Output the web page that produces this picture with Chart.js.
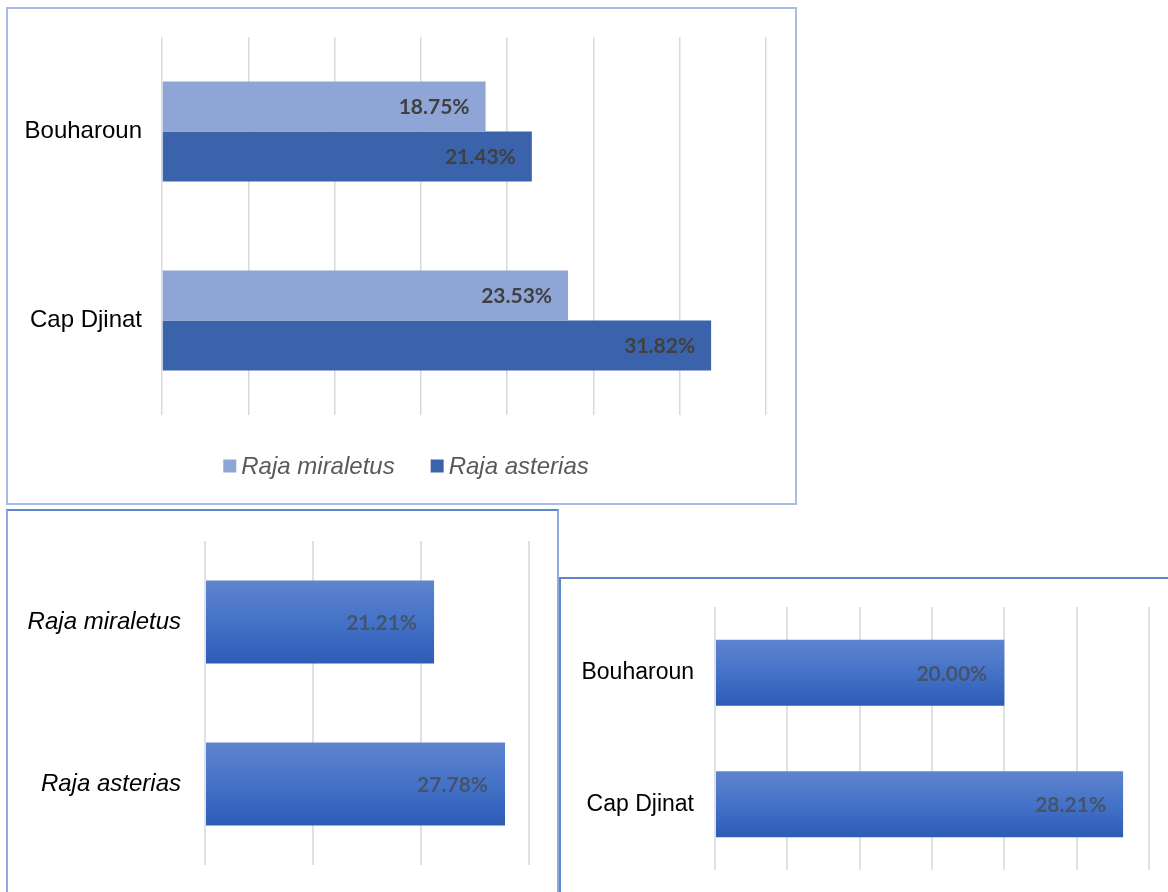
<!DOCTYPE html>
<html>
<head>
<meta charset="utf-8">
<script src="https://cdn.jsdelivr.net/npm/chart.js@4.4.1/dist/chart.umd.min.js"></script>
<style>
  html, body { margin: 0; padding: 0; background: #ffffff; width: 1168px; height: 892px; overflow: hidden; }
  .box { position: absolute; box-sizing: border-box; }
  canvas { position: absolute; display: block; }
</style>
</head>
<body>
<div class="box" style="left:6px; top:7px; width:791px; height:498px; border:2px solid #A4BCE6;"></div>
<div class="box" style="left:6px; top:509px; width:553px; height:400px; border:2px solid #8FAADF; border-top-color:#5F86CF;"></div>
<div class="box" style="left:559px; top:577px; width:620px; height:330px; border-top:2px solid #5F86CF; border-left:2px solid #5F86CF;"></div>

<canvas id="c1" width="789" height="495" style="left:7px; top:8px;"></canvas>
<canvas id="c2" width="551" height="381" style="left:8px; top:511px;"></canvas>
<canvas id="c3" width="607" height="313" style="left:561px; top:579px;"></canvas>

<script>
// ---------- data ----------
const chart1Categories = ['Bouharoun', 'Cap Djinat'];
const rajaMiraletusValues = [18.75, 23.53];
const rajaAsteriasValues = [21.43, 31.82];
const chart1SeriesNames = ['Raja miraletus', 'Raja asterias'];

const chart2Categories = ['Raja miraletus', 'Raja asterias'];
const chart2Values = [21.21, 27.78];

const chart3Categories = ['Bouharoun', 'Cap Djinat'];
const chart3Values = [20.00, 28.21];

// ---------- helpers ----------
const endLabels = {
  id: 'endLabels',
  afterDatasetsDraw(chart, args, opts) {
    const ctx = chart.ctx;
    ctx.save();
    ctx.font = opts.font;
    ctx.fillStyle = opts.color;
    ctx.textAlign = 'right';
    ctx.textBaseline = 'middle';
    chart.data.datasets.forEach((ds, di) => {
      const meta = chart.getDatasetMeta(di);
      meta.data.forEach((bar, i) => {
        ctx.fillText(ds.data[i].toFixed(2) + '%', bar.x - opts.offset, bar.y + 1);
      });
    });
    ctx.restore();
  }
};

// legend drawn from the datasets (label + colour), centred below the plot
const boxLegend = {
  id: 'boxLegend',
  afterDraw(chart, args, opts) {
    const ctx = chart.ctx;
    ctx.save();
    ctx.font = opts.font;
    ctx.textBaseline = 'middle';
    ctx.textAlign = 'left';
    const items = chart.data.datasets.map(ds => ({ text: ds.label, color: ds.backgroundColor, w: ctx.measureText(ds.label).width }));
    let total = 0;
    items.forEach((it, i) => { total += opts.box + opts.gap + it.w + (i ? opts.itemGap : 0); });
    let x = opts.centerX - total / 2;
    const y = chart.chartArea.bottom + opts.offsetY;
    items.forEach((it) => {
      ctx.fillStyle = it.color;
      ctx.fillRect(x, y - opts.box / 2, opts.box, opts.box);
      x += opts.box + opts.gap;
      ctx.fillStyle = opts.color;
      ctx.fillText(it.text, x, y + 1);
      x += it.w + opts.itemGap;
    });
    ctx.restore();
  }
};

function gradientFor(catPct) {
  return function (c) {
    const chart = c.chart;
    const area = chart.chartArea;
    if (!area || !chart.scales.y) return '#4472C4';
    const center = chart.scales.y.getPixelForValue(c.dataIndex);
    const cat = (area.bottom - area.top) / chart.data.labels.length;
    const half = cat * catPct / 2;
    const g = chart.ctx.createLinearGradient(0, center - half, 0, center + half);
    g.addColorStop(0, '#6084CE');
    g.addColorStop(0.5, '#4472C8');
    g.addColorStop(1, '#2E5CB5');
    return g;
  };
}

// fixed width for the category axis, and no extra top/bottom padding from its labels
function fixedWidth(w) {
  return function (scale) {
    scale.width = w;
    scale.paddingTop = 0;
    scale.paddingBottom = 0;
  };
}

Chart.defaults.animation = false;
Chart.defaults.responsive = false;

// ---------- chart 1 ----------
new Chart(document.getElementById('c1'), {
  type: 'bar',
  data: {
    labels: chart1Categories,
    datasets: [
      { label: chart1SeriesNames[0], data: rajaMiraletusValues, backgroundColor: '#8FA5D6', borderWidth: 0 },
      { label: chart1SeriesNames[1], data: rajaAsteriasValues, backgroundColor: '#3B63AC', borderWidth: 0 }
    ]
  },
  options: {
    indexAxis: 'y',
    layout: { padding: { left: 0, right: 30, top: 29, bottom: 88 } },
    datasets: { bar: { barPercentage: 1.0, categoryPercentage: 0.529 } },
    scales: {
      x: {
        min: 0, max: 35,
        ticks: { display: false, stepSize: 5 },
        grid: { color: '#D9D9D9', lineWidth: 1.5, drawTicks: false },
        border: { display: false }
      },
      y: {
        afterFit: fixedWidth(155),
        ticks: { color: '#000000', font: { family: 'Liberation Sans, Arial', size: 24 }, padding: 20 },
        grid: { display: false, drawTicks: false },
        border: { display: false }
      }
    },
    plugins: {
      tooltip: { enabled: false },
      legend: { display: false },
      boxLegend: { font: 'italic 24px "Liberation Sans", Arial, sans-serif', color: '#595959', box: 13, gap: 5, itemGap: 36, centerX: 399, offsetY: 51 },
      endLabels: { font: 'bold 21px Lato, "Open Sans", sans-serif', color: '#404040', offset: 16 }
    }
  },
  plugins: [endLabels, boxLegend]
});

// ---------- chart 2 ----------
new Chart(document.getElementById('c2'), {
  type: 'bar',
  data: {
    labels: chart2Categories,
    datasets: [
      { label: 'Chart 2', data: chart2Values, backgroundColor: gradientFor(0.512), borderWidth: 0 }
    ]
  },
  options: {
    indexAxis: 'y',
    layout: { padding: { left: 0, right: 30, top: 30, bottom: 27 } },
    datasets: { bar: { barPercentage: 1.0, categoryPercentage: 0.512 } },
    scales: {
      x: {
        min: 0, max: 30,
        ticks: { display: false, stepSize: 10 },
        grid: { color: '#DDE2E9', lineWidth: 2, drawTicks: false },
        border: { display: false }
      },
      y: {
        afterFit: fixedWidth(197),
        ticks: { color: '#000000', font: { family: 'Liberation Sans, Arial', size: 24, style: 'italic' }, padding: 24 },
        grid: { display: false, drawTicks: false },
        border: { display: false }
      }
    },
    plugins: {
      tooltip: { enabled: false },
      legend: { display: false },
      endLabels: { font: 'bold 21px Lato, "Open Sans", sans-serif', color: '#44546A', offset: 17 }
    }
  },
  plugins: [endLabels]
});

// ---------- chart 3 ----------
new Chart(document.getElementById('c3'), {
  type: 'bar',
  data: {
    labels: chart3Categories,
    datasets: [
      { label: 'Chart 3', data: chart3Values, backgroundColor: gradientFor(0.502), borderWidth: 0 }
    ]
  },
  options: {
    indexAxis: 'y',
    layout: { padding: { left: 0, right: 19, top: 28, bottom: 22 } },
    datasets: { bar: { barPercentage: 1.0, categoryPercentage: 0.502 } },
    scales: {
      x: {
        min: 0, max: 30,
        ticks: { display: false, stepSize: 5 },
        grid: { color: '#DDE2E9', lineWidth: 2, drawTicks: false },
        border: { display: false }
      },
      y: {
        afterFit: fixedWidth(154),
        ticks: { color: '#000000', font: { family: 'Liberation Sans, Arial', size: 23 }, padding: 21 },
        grid: { display: false, drawTicks: false },
        border: { display: false }
      }
    },
    plugins: {
      tooltip: { enabled: false },
      legend: { display: false },
      endLabels: { font: 'bold 21px Lato, "Open Sans", sans-serif', color: '#44546A', offset: 17 }
    }
  },
  plugins: [endLabels]
});
</script>
</body>
</html>
